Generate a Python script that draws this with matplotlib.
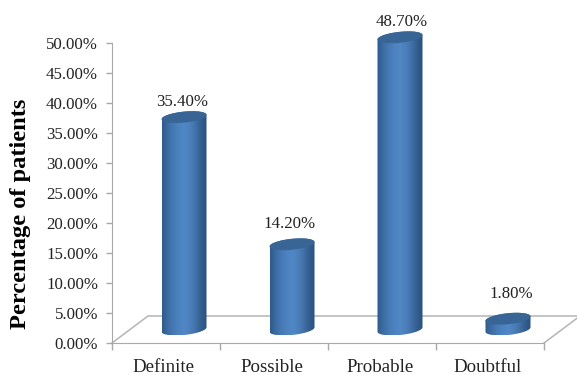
import numpy as np
import matplotlib.pyplot as plt
from matplotlib.colors import LinearSegmentedColormap
from matplotlib.patches import PathPatch
from matplotlib.path import Path
from matplotlib.ticker import FuncFormatter

categories = ['Definite', 'Possible', 'Probable', 'Doubtful']
percentages = [35.4, 14.2, 48.7, 1.8]
y_ticks = [0, 5, 10, 15, 20, 25, 30, 35, 40, 45, 50]

plt.rcParams['font.family'] = ['Liberation Serif', 'DejaVu Serif']

W, H = 577, 375
fig = plt.figure(figsize=(W / 100, H / 100), dpi=100, facecolor='white')
# plot area runs from the axis corner to the far end of the 3d floor, up to the figure top
ax = fig.add_axes([112 / W, (H - 343) / H, 466 / W, 343 / H])

px_x = 1 / 108   # one pixel in category units
px_y = 1 / 6     # one pixel in percent units
depth_x = 36 * px_x
depth_y = 27 * px_y
grey = '#a9a9a9'

# floor of the 3d box
n = len(categories)
ax.plot([0, depth_x, n + depth_x, n], [0, depth_y, depth_y, 0], color='#b4b4b4', lw=1.1,
        clip_on=False, zorder=1)

body_cmap = LinearSegmentedColormap.from_list(
    'cyl', ['#2f5b8c', '#3c6ca3', '#467ab5', '#4d82c0', '#5087c5', '#4c80bc', '#4271a8', '#345f90', '#2b5180'])


def ellipse(cx, cy, theta):
    a = 22.5 * px_x
    b = 5.5 * px_y
    tilt = 2.2 * px_y
    return cx + a * np.cos(theta), cy + b * np.sin(theta) + tilt * np.cos(theta)


def cylinder(cx, value):
    base = depth_y / 2
    top = base + value
    xb, yb = ellipse(cx, base, np.linspace(np.pi, 2 * np.pi, 60))
    xt, yt = ellipse(cx, top, np.linspace(0, np.pi, 60))
    outline = np.column_stack([np.r_[xb, xt], np.r_[yb, yt]])
    body = PathPatch(Path(outline, closed=False), fc='none', ec='none', transform=ax.transData)
    ax.add_patch(body)
    im = ax.imshow(np.linspace(0, 1, 64)[None, :], cmap=body_cmap, aspect='auto',
                   extent=[outline[:, 0].min(), outline[:, 0].max(), outline[:, 1].min(), outline[:, 1].max()],
                   zorder=3)
    im.set_clip_path(body)
    # lid
    xl, yl = ellipse(cx, top, np.linspace(0, 2 * np.pi, 120))
    ax.fill(xl, yl, color='#386596', lw=0, zorder=4, clip_on=False)


label_dx = [-2, -2, 2, 3]
label_dy = [15, 20, 15, 25]
for i, value in enumerate(percentages):
    cx = i + 0.5 + 18 * px_x
    cylinder(cx, value)
    ax.annotate(f'{value:.2f}%', (cx, depth_y / 2 + value), xytext=(label_dx[i] * 0.72, label_dy[i] * 0.72),
                textcoords='offset points', ha='center', va='center', fontsize=12.2, color='#222222',
                annotation_clip=False, zorder=5)

ax.set_xlim(0, 466 * px_x)
ax.set_ylim(0, 343 * px_y)
ax.patch.set_alpha(0)

for side in ['top', 'right']:
    ax.spines[side].set_visible(False)
ax.spines['left'].set_color(grey)
ax.spines['left'].set_bounds(0, 50)
ax.spines['bottom'].set_color(grey)
ax.spines['bottom'].set_bounds(0, n)

ax.set_yticks(y_ticks)
ax.yaxis.set_major_formatter(FuncFormatter(lambda v, _: f'{v:.2f}%'))
ax.set_xticks(range(n + 1))
ax.set_xticklabels([])
ax.set_xticks([i + 0.48 for i in range(n)], categories, minor=True)
ax.tick_params(axis='x', which='major', length=5, color=grey, width=1)
ax.tick_params(axis='x', which='minor', length=0, pad=11.5, labelsize=13.6, labelcolor='#222222')
ax.tick_params(axis='y', length=4, color=grey, width=1, pad=6, labelsize=12.2, labelcolor='#222222')

fig.text(21 / W, 1 - 214 / H, 'Percentage of patients', rotation=90, ha='center', va='center',
         fontsize=17.6, fontweight='bold', color='black')

fig.savefig('out.png', dpi=100)
